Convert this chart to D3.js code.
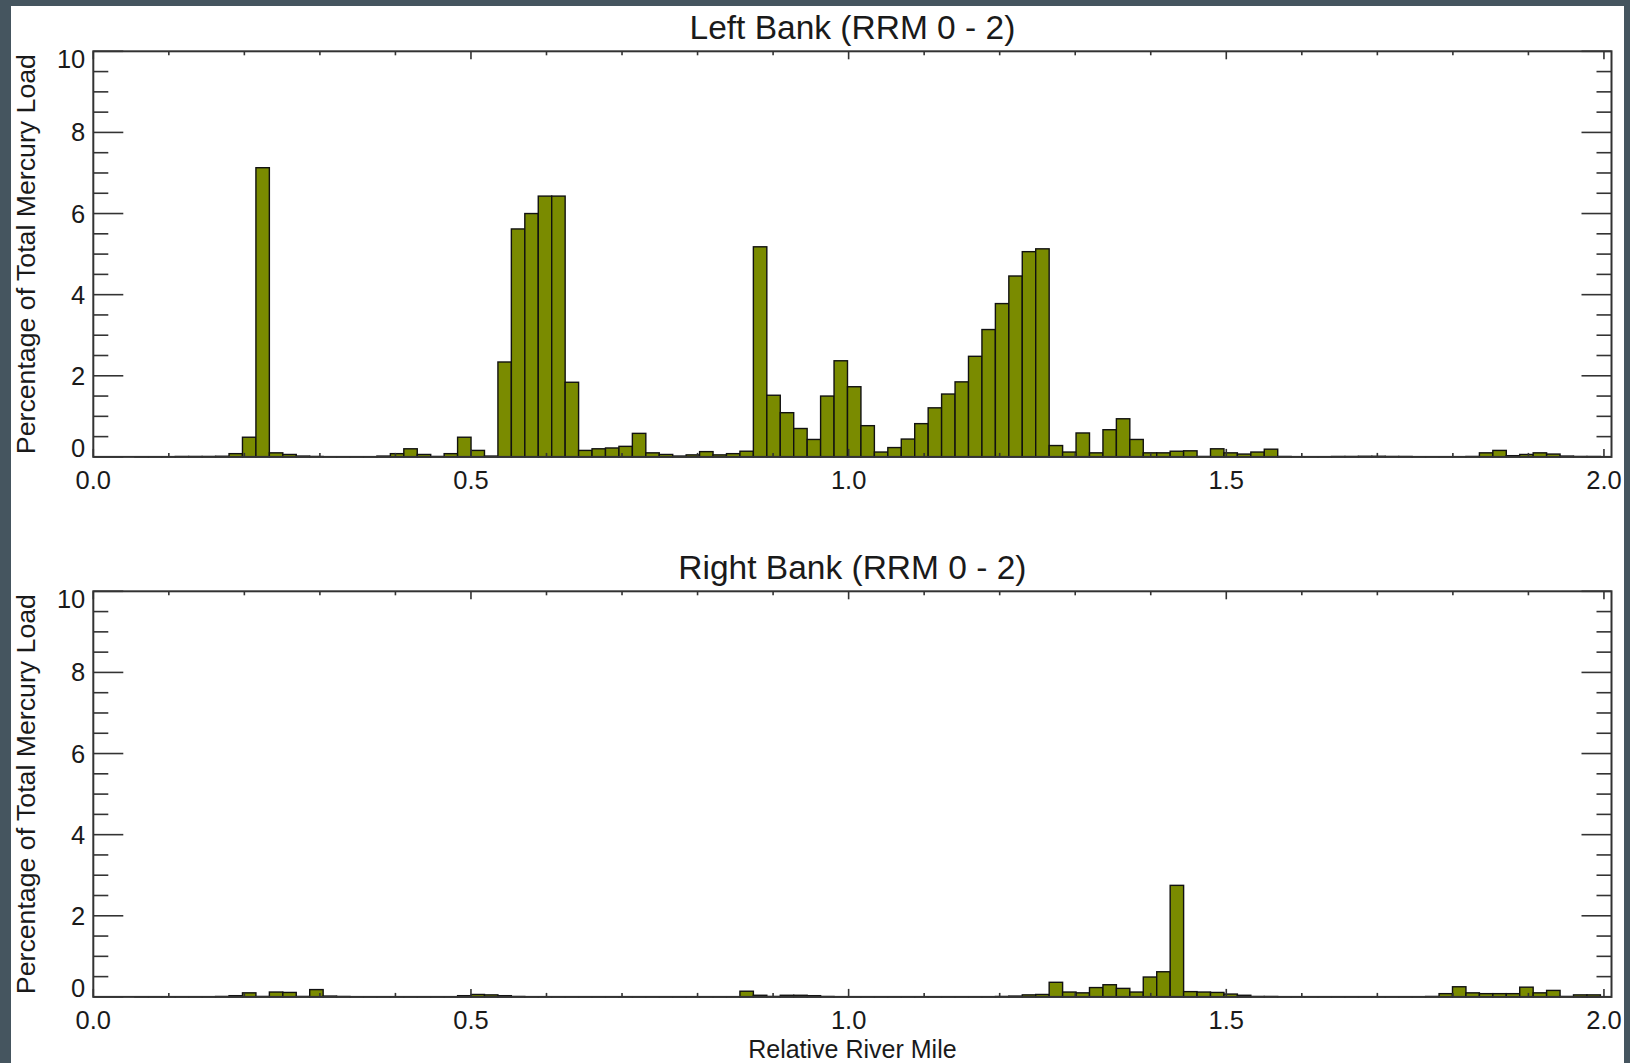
<!DOCTYPE html>
<html>
<head>
<meta charset="utf-8">
<script src="https://cdn.jsdelivr.net/npm/d3@7"></script>
<style>
  html, body { margin: 0; padding: 0; background: #45555f; }
  svg { display: block; }
  text { font-family: "Liberation Sans", Arial, Helvetica, sans-serif; fill: #1a1a1a; }
</style>
</head>
<body>
<svg id="chart" width="1630" height="1063"></svg>
<script>
// Histogram bins along the river (relative river mile)
const binStart = 0.0017;
const binWidth = 0.0178;

// Percentage of total mercury load per bin, left bank
const leftBank = [
  0, 0, 0, 0.005, 0.005, 0.005, 0.01, 0.01, 0.01, 0.015,
  0.08, 0.485, 7.13, 0.1, 0.06, 0.02, 0.01, 0.005, 0.005, 0.005,
  0.005, 0.02, 0.08, 0.2, 0.06, 0.01, 0.08, 0.485, 0.16, 0.02,
  2.34, 5.62, 6.0, 6.43, 6.43, 1.84, 0.16, 0.2, 0.22, 0.26,
  0.58, 0.1, 0.06, 0.02, 0.05, 0.13, 0.05, 0.08, 0.14, 5.18,
  1.52, 1.09, 0.7, 0.43, 1.5, 2.37, 1.73, 0.77, 0.12, 0.23,
  0.44, 0.82, 1.21, 1.55, 1.85, 2.48, 3.14, 3.78, 4.46, 5.06,
  5.13, 0.28, 0.12, 0.59, 0.1, 0.67, 0.94, 0.43, 0.1, 0.1,
  0.14, 0.15, 0.01, 0.2, 0.1, 0.07, 0.12, 0.19, 0.01, 0.005,
  0.005, 0.005, 0.01, 0.01, 0.015, 0.015, 0.01, 0.01, 0.005, 0.005,
  0.005, 0.005, 0.01, 0.1, 0.16, 0.03, 0.06, 0.1, 0.07, 0.02,
  0.01, 0.01
];

// Percentage of total mercury load per bin, right bank
const rightBank = [
  0, 0, 0, 0.005, 0.005, 0.005, 0.005, 0.005, 0.005, 0.01,
  0.03, 0.1, 0.01, 0.12, 0.11, 0.01, 0.18, 0.02, 0.01, 0.005,
  0.005, 0.005, 0.005, 0.005, 0.005, 0.005, 0.005, 0.03, 0.06, 0.05,
  0.03, 0.01, 0.005, 0.005, 0.005, 0.005, 0.005, 0.005, 0.005, 0.005,
  0.005, 0.005, 0.005, 0.005, 0.005, 0.005, 0.005, 0.005, 0.14, 0.04,
  0.01, 0.04, 0.04, 0.03, 0.01, 0.005, 0.005, 0.005, 0.005, 0.005,
  0.005, 0.005, 0.005, 0.005, 0.005, 0.005, 0.005, 0.01, 0.02, 0.05,
  0.06, 0.36, 0.12, 0.1, 0.23, 0.3, 0.21, 0.12, 0.49, 0.62,
  2.75, 0.13, 0.12, 0.11, 0.07, 0.04, 0.01, 0.01, 0.005, 0.005,
  0.005, 0.005, 0.005, 0.005, 0.005, 0.005, 0.005, 0.005, 0.005, 0.01,
  0.08, 0.25, 0.1, 0.08, 0.08, 0.08, 0.24, 0.1, 0.16, 0.01,
  0.05, 0.05
];

const panelTitles = ["Left Bank (RRM 0 - 2)", "Right Bank (RRM 0 - 2)"];
const xTickLabels = ["0.0", "0.5", "1.0", "1.5", "2.0"];
const xTickValues = [0, 0.5, 1.0, 1.5, 2.0];
const yTickValues = [0, 2, 4, 6, 8, 10];
const yAxisTitle = "Percentage of Total Mercury Load";
const xAxisTitle = "Relative River Mile";

const W = 1630, H = 1063;
const plotLeft = 93.3, plotRight = 1611.5;
const panelTops = [51.3, 591.3];
const panelHeight = 405.6;
const barFill = "#7a8b00";
const frameColor = "#333333";

const svg = d3.select("#chart");

// white page area framed by the dark surround
svg.append("rect")
  .attr("x", 11).attr("y", 6)
  .attr("width", 1613).attr("height", H - 6)
  .attr("fill", "#ffffff");

const x = d3.scaleLinear().domain([0, 2.01]).range([plotLeft, plotRight]);

const series = [leftBank, rightBank];

series.forEach((values, p) => {
  const top = panelTops[p];
  const bottom = top + panelHeight;
  const y = d3.scaleLinear().domain([0, 10]).range([bottom, top]);
  const g = svg.append("g");

  const bins = values.map((v, i) => ({
    x0: binStart + i * binWidth,
    x1: binStart + (i + 1) * binWidth,
    v: v
  }));

  // bars
  g.append("g").selectAll("rect")
    .data(bins)
    .join("rect")
    .attr("x", d => x(d.x0))
    .attr("width", d => x(d.x1) - x(d.x0))
    .attr("y", d => y(d.v))
    .attr("height", d => y(0) - y(d.v))
    .attr("fill", barFill)
    .attr("stroke", "#111")
    .attr("stroke-width", 1.4);

  // x ticks: minor every 0.1, major every 0.5, on bottom and top edges
  const xMinor = d3.range(0, 21).map(k => k / 10);
  const tickG = g.append("g").attr("stroke", frameColor).attr("stroke-width", 1.6);
  xMinor.forEach(v => {
    const major = Math.abs(v * 2 - Math.round(v * 2)) < 1e-9;
    const len = major ? 8 : 4;
    tickG.append("line").attr("x1", x(v)).attr("x2", x(v)).attr("y1", bottom).attr("y2", bottom - len);
    tickG.append("line").attr("x1", x(v)).attr("x2", x(v)).attr("y1", top).attr("y2", top + len);
  });

  // y ticks: minor every 0.5, major every 2, on left and right edges
  const yMinor = d3.range(0, 21).map(k => k / 2);
  yMinor.forEach(v => {
    const major = Math.abs(v / 2 - Math.round(v / 2)) < 1e-9;
    const len = major ? 30 : 15;
    tickG.append("line").attr("x1", plotLeft).attr("x2", plotLeft + len).attr("y1", y(v)).attr("y2", y(v));
    tickG.append("line").attr("x1", plotRight).attr("x2", plotRight - len).attr("y1", y(v)).attr("y2", y(v));
  });

  // frame
  g.append("rect")
    .attr("x", plotLeft).attr("y", top)
    .attr("width", plotRight - plotLeft).attr("height", panelHeight)
    .attr("fill", "none")
    .attr("stroke", frameColor)
    .attr("stroke-width", 2);

  // y tick labels
  g.append("g").selectAll("text")
    .data(yTickValues)
    .join("text")
    .attr("x", plotLeft - 8)
    .attr("y", d => Math.max(top + 17, Math.min(bottom, y(d) + 9)))
    .attr("text-anchor", "end")
    .style("font-size", "25.5px")
    .text(d => String(d));

  // x tick labels
  g.append("g").selectAll("text")
    .data(xTickValues)
    .join("text")
    .attr("x", d => x(d))
    .attr("y", bottom + 32.5)
    .attr("text-anchor", "middle")
    .style("font-size", "25.5px")
    .text((d, i) => xTickLabels[i]);

  // panel title
  g.append("text")
    .attr("x", (plotLeft + plotRight) / 2)
    .attr("y", top - 12.8)
    .attr("text-anchor", "middle")
    .style("font-size", "33.5px")
    .text(panelTitles[p]);

  // y axis title
  g.append("text")
    .attr("transform", `translate(35.3,${(top + bottom) / 2}) rotate(-90)`)
    .attr("text-anchor", "middle")
    .style("font-size", "26.7px")
    .text(yAxisTitle);

  if (p === 1) {
    g.append("text")
      .attr("x", (plotLeft + plotRight) / 2)
      .attr("y", 1057.5)
      .attr("text-anchor", "middle")
      .style("font-size", "25px")
      .text(xAxisTitle);
  }
});
</script>
</body>
</html>
